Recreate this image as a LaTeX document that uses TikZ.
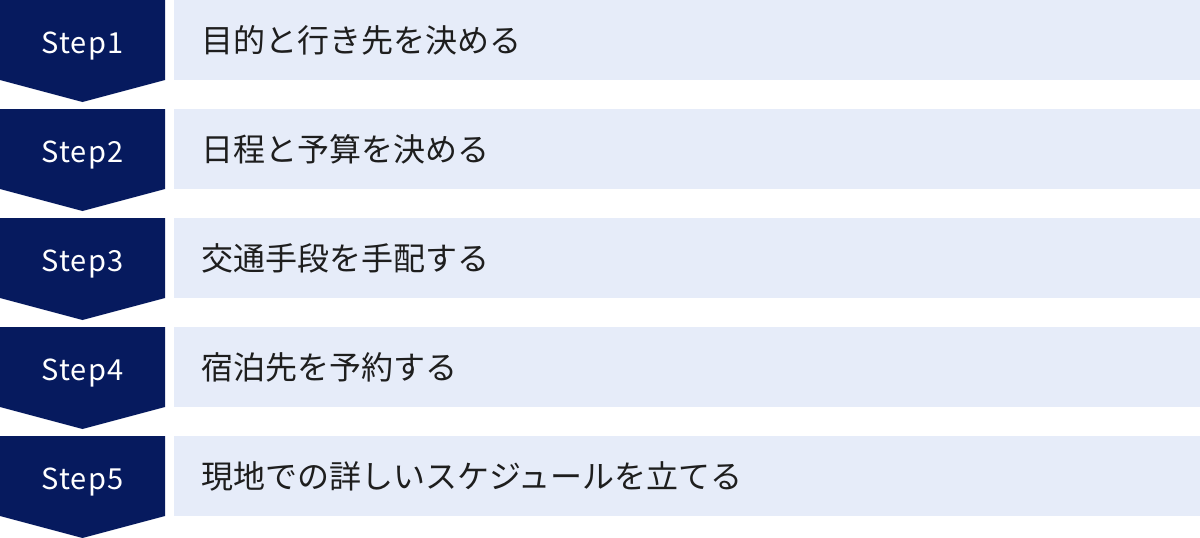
\documentclass[tikz,border=0pt]{standalone}
\usepackage{fontspec}
\setmainfont{Noto Sans CJK JP}
\newfontfamily\stepfont[LetterSpace=4]{Noto Sans CJK JP}
\usetikzlibrary{calc}

\definecolor{stepnavy}{HTML}{061A5E}
\definecolor{taskbg}{HTML}{E6ECF9}
\definecolor{tasktext}{HTML}{1E1E1E}

\tikzset{
    steplabel/.style={text=white, anchor=base, inner sep=0pt, font=\stepfont\fontsize{29}{29}\selectfont},
    tasklabel/.style={text=tasktext, anchor=west, inner sep=0pt, font=\fontsize{32}{32}\selectfont},
}

\begin{document}
\begin{tikzpicture}[x=1pt,y=-1pt]

    \useasboundingbox (0,0) rectangle (1200,538);

    \foreach \i/\task in {1/目的と行き先を決める, 2/日程と予算を決める, 3/交通手段を手配する,
                          4/宿泊先を予約する, 5/現地での詳しいスケジュールを立てる} {
        \pgfmathsetmacro{\top}{(\i-1)*109}
        \fill[stepnavy] (0,\top) -- (165,\top) -- (165,\top+80) -- (82.5,\top+102) -- (0,\top+80) -- cycle;
        \fill[taskbg] (174,\top) rectangle (1200,\top+80);
        \node[steplabel] (step\i) at (82.5,\top+53) {Step\i};
        \node[tasklabel] (task\i) at (201,\top+40.5) {\task};
    }

\end{tikzpicture}
\end{document}
